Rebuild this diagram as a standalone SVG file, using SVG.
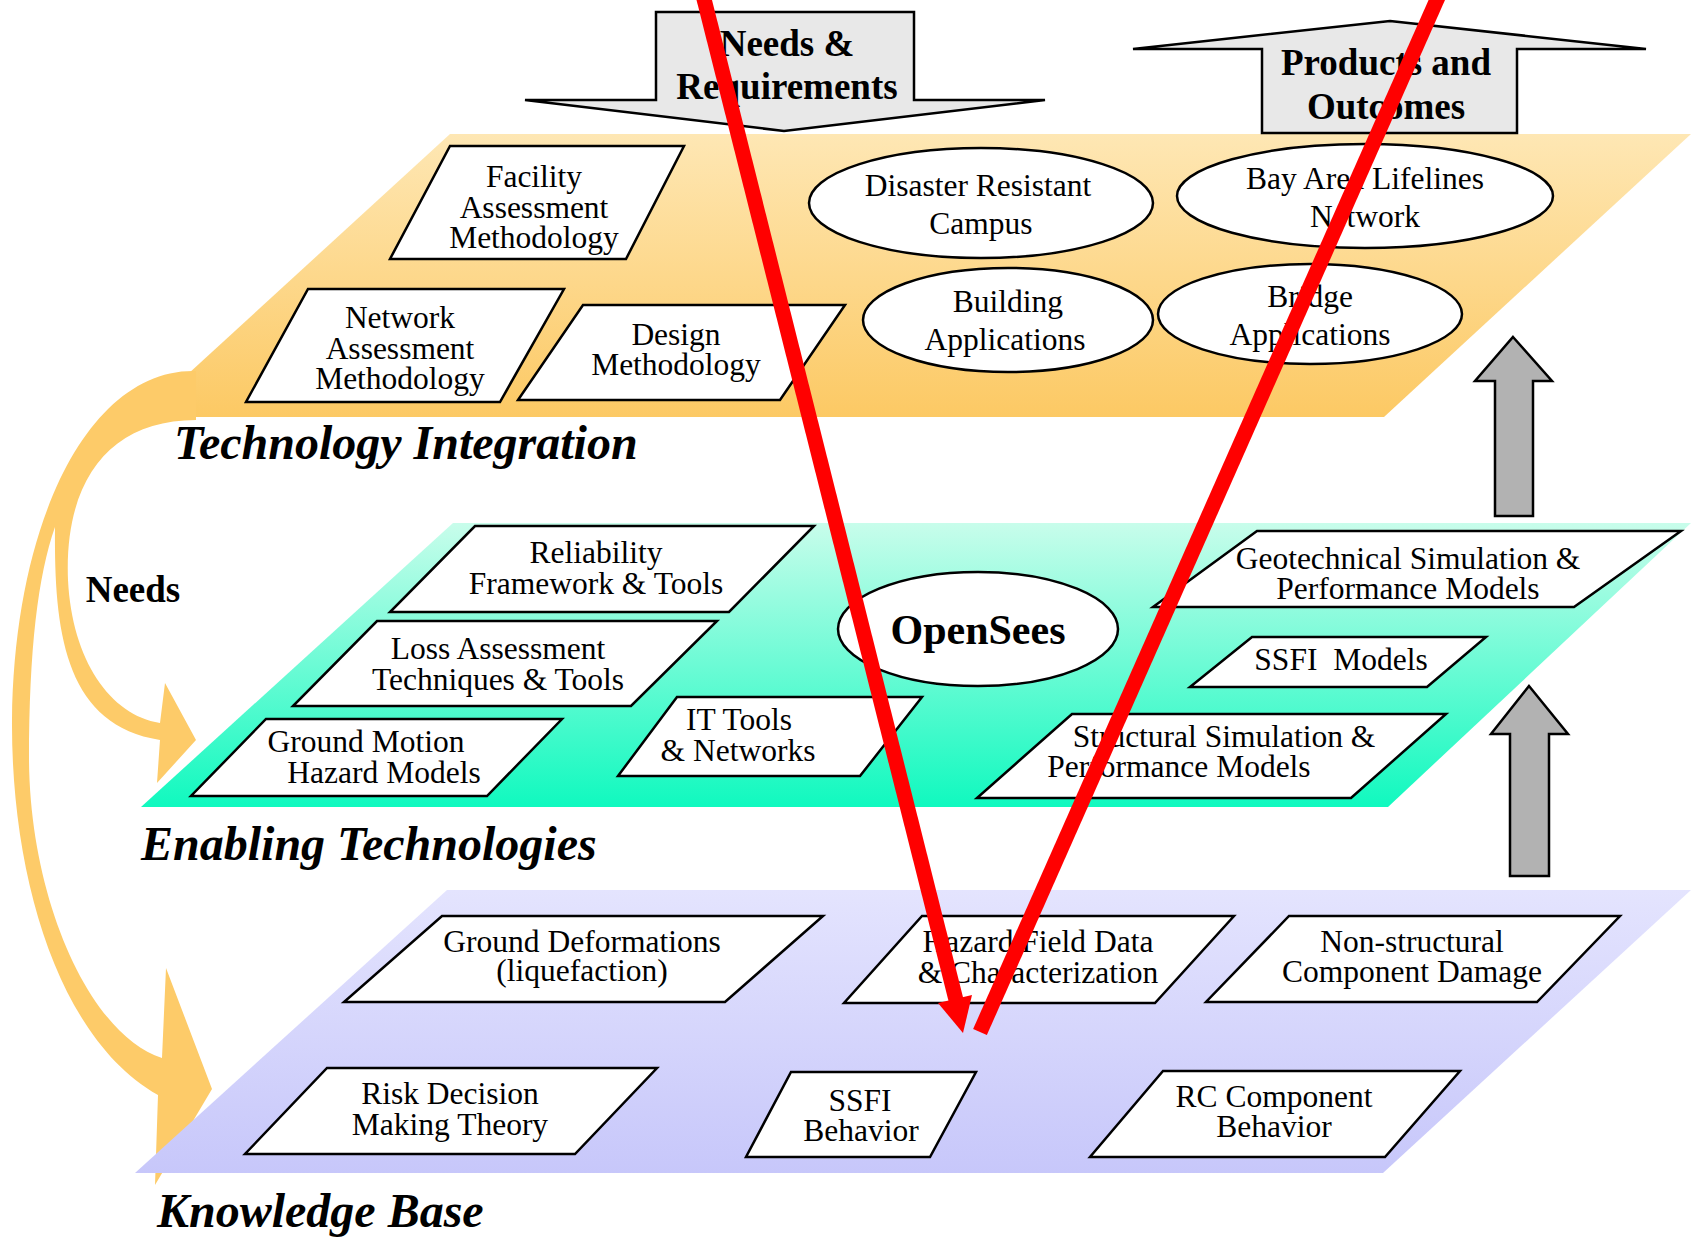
<svg xmlns="http://www.w3.org/2000/svg" width="1691" height="1238" viewBox="0 0 1691 1238">
<defs>
<linearGradient id="gOrange" x1="0" y1="0" x2="0" y2="1"><stop offset="0" stop-color="#FEE7B4"/><stop offset="1" stop-color="#FCC964"/></linearGradient>
<linearGradient id="gGreen" x1="0" y1="0" x2="0" y2="1"><stop offset="0" stop-color="#C8FDEB"/><stop offset="1" stop-color="#10F9BF"/></linearGradient>
<linearGradient id="gLav" x1="0" y1="0" x2="0" y2="1"><stop offset="0" stop-color="#E4E4FE"/><stop offset="1" stop-color="#C7C7FA"/></linearGradient>
</defs>
<style>
.node{fill:#fff;stroke:#000;stroke-width:2.5}
.t{font-family:"Liberation Serif","Times New Roman",serif;font-size:31.5px;fill:#000;text-anchor:middle}
.bt{font-family:"Liberation Serif","Times New Roman",serif;font-weight:bold;font-size:37px;fill:#000;text-anchor:middle}
.layer{font-family:"Liberation Serif","Times New Roman",serif;font-weight:bold;font-style:italic;font-size:48px;fill:#000}
.block{fill:#E8E8E8;stroke:#000;stroke-width:2.5}
.gray{fill:#B2B2B2;stroke:#000;stroke-width:2.5}
.yellow{fill:#FDCB69}
.red{stroke:#FF0000;stroke-width:15;fill:none}
</style>
<rect width="1691" height="1238" fill="#fff"/>

<g id="plane-integration"><polygon points="450,134 1691,134 1384,417 141,417" fill="url(#gOrange)"/></g>

<g id="connectors-needs">
<path class="yellow" d="M196,371 C90,368 14,520 12,720 C11,880 60,1040 158,1095 L155,1185 L212,1089 L166,968 L162,1058 C90,1035 30,900 29,760 C29,650 38,575 55,527 C54,630 64,725 160,740 L157,783 L196,740 L165,683 L160,723 C110,715 72,660 68,580 C64,480 110,420 196,420 Z"/>
</g>

<g id="plane-enabling"><polygon points="453,523 1691,523 1388,807 141,807" fill="url(#gGreen)"/></g>
<g id="plane-knowledge"><polygon points="447,890 1691,890 1383,1173 135,1173" fill="url(#gLav)"/></g>

<g id="layer-labels">
<text class="layer" x="174" y="459">Technology Integration</text>
<text class="layer" x="141" y="860">Enabling Technologies</text>
<text class="layer" x="157" y="1227">Knowledge Base</text>
<text class="bt" x="133" y="602">Needs</text>
</g>

<g id="needs-requirements">
<polygon class="block" points="656,12 914,12 914,100 1045,100 784,131 525,100 656,100"/>
<text class="bt"><tspan x="787" y="56">Needs &amp;</tspan><tspan x="787" y="99">Requirements</tspan></text>
</g>
<g id="products-outcomes">
<polygon class="block" points="1390,21 1646,49 1517,49 1517,133 1262,133 1262,49 1133,49"/>
<text class="bt"><tspan x="1386" y="75">Products and</tspan><tspan x="1386" y="119">Outcomes</tspan></text>
</g>

<g id="connectors-gray">
<polygon class="gray" points="1513,337 1552,381 1533,381 1533,516 1495,516 1495,381 1475,381"/>
<polygon class="gray" points="1529,686 1568,734 1549,734 1549,876 1510,876 1510,734 1491,734"/>
</g>

<g id="facility"><polygon class="node" points="450,146 684,146 626,259 390,259"/><text class="t"><tspan x="534" y="187">Facility</tspan><tspan x="534" y="218">Assessment</tspan><tspan x="534" y="248">Methodology</tspan></text></g>
<g id="network"><polygon class="node" points="308,289 564,289 500,402 246,402"/><text class="t"><tspan x="400" y="328">Network</tspan><tspan x="400" y="359">Assessment</tspan><tspan x="400" y="389">Methodology</tspan></text></g>
<g id="design"><polygon class="node" points="583,305 845,305 780,400 518,400"/><text class="t"><tspan x="676" y="345">Design</tspan><tspan x="676" y="375">Methodology</tspan></text></g>
<g id="disaster"><ellipse class="node" cx="981" cy="203" rx="172" ry="55"/><text class="t"><tspan x="978" y="196">Disaster Resistant</tspan><tspan x="981" y="234">Campus</tspan></text></g>
<g id="bayarea"><ellipse class="node" cx="1365" cy="196" rx="188" ry="52"/><text class="t"><tspan x="1365" y="189">Bay Area Lifelines</tspan><tspan x="1365" y="227">Network</tspan></text></g>
<g id="building"><ellipse class="node" cx="1008" cy="320" rx="145" ry="52"/><text class="t"><tspan x="1008" y="312">Building</tspan><tspan x="1005" y="350">Applications</tspan></text></g>
<g id="bridge"><ellipse class="node" cx="1310" cy="314" rx="152" ry="50"/><text class="t"><tspan x="1310" y="307">Bridge</tspan><tspan x="1310" y="345">Applications</tspan></text></g>

<g id="reliability"><polygon class="node" points="475,526 814,526 729,612 390,612"/><text class="t"><tspan x="596" y="563">Reliability</tspan><tspan x="596" y="594">Framework &amp; Tools</tspan></text></g>
<g id="loss"><polygon class="node" points="377,621 717,621 631,706 293,706"/><text class="t"><tspan x="498" y="659">Loss Assessment</tspan><tspan x="498" y="690">Techniques &amp; Tools</tspan></text></g>
<g id="groundmotion"><polygon class="node" points="266,719 562,719 487,796 191,796"/><text class="t"><tspan x="366" y="752">Ground Motion</tspan><tspan x="384" y="783">Hazard Models</tspan></text></g>
<g id="ittools"><polygon class="node" points="677,697 922,697 860,776 618,776"/><text class="t"><tspan x="739" y="730">IT Tools</tspan><tspan x="738" y="761">&amp; Networks</tspan></text></g>
<g id="opensees"><ellipse class="node" cx="978" cy="629" rx="140" ry="57"/><text class="t" style="font-weight:bold;font-size:42px" x="978" y="644">OpenSees</text></g>
<g id="geotech"><polygon class="node" points="1257,531 1681,531 1574,607 1153,607"/><text class="t"><tspan x="1408" y="569">Geotechnical Simulation &amp;</tspan><tspan x="1408" y="599">Performance Models</tspan></text></g>
<g id="ssfimodels"><polygon class="node" points="1252,637 1486,637 1427,687 1190,687"/><text class="t" style="white-space:pre" x="1341" y="670">SSFI  Models</text></g>
<g id="structural"><polygon class="node" points="1072,714 1446,714 1351,798 977,798"/><text class="t"><tspan x="1224" y="747">Structural Simulation &amp;</tspan><tspan x="1179" y="777">Performance Models</tspan></text></g>

<g id="grounddeform"><polygon class="node" points="442,916 823,916 725,1002 344,1002"/><text class="t"><tspan x="582" y="952">Ground Deformations</tspan><tspan x="582" y="981">(liquefaction)</tspan></text></g>
<g id="hazardfield"><polygon class="node" points="922,916 1234,916 1155,1003 844,1003"/><text class="t"><tspan x="1038" y="952">Hazard Field Data</tspan><tspan x="1038" y="983">&amp; Characterization</tspan></text></g>
<g id="nonstructural"><polygon class="node" points="1289,916 1620,916 1537,1002 1206,1002"/><text class="t"><tspan x="1412" y="952">Non-structural</tspan><tspan x="1412" y="982">Component Damage</tspan></text></g>
<g id="risk"><polygon class="node" points="327,1068 657,1068 575,1154 245,1154"/><text class="t"><tspan x="450" y="1104">Risk Decision</tspan><tspan x="450" y="1135">Making Theory</tspan></text></g>
<g id="ssfibehavior"><polygon class="node" points="791,1072 976,1072 930,1157 746,1157"/><text class="t"><tspan x="860" y="1111">SSFI</tspan><tspan x="861" y="1141">Behavior</tspan></text></g>
<g id="rccomponent"><polygon class="node" points="1163,1071 1460,1071 1385,1157 1090,1157"/><text class="t"><tspan x="1274" y="1107">RC Component</tspan><tspan x="1274" y="1137">Behavior</tspan></text></g>

<g id="connectors-red">
<line class="red" x1="703" y1="-5" x2="956" y2="1000"/>
<polygon points="938,1003 972,995 963,1033" fill="#FF0000"/>
<line class="red" x1="1439" y1="-5" x2="980" y2="1032"/>
</g>
</svg>
